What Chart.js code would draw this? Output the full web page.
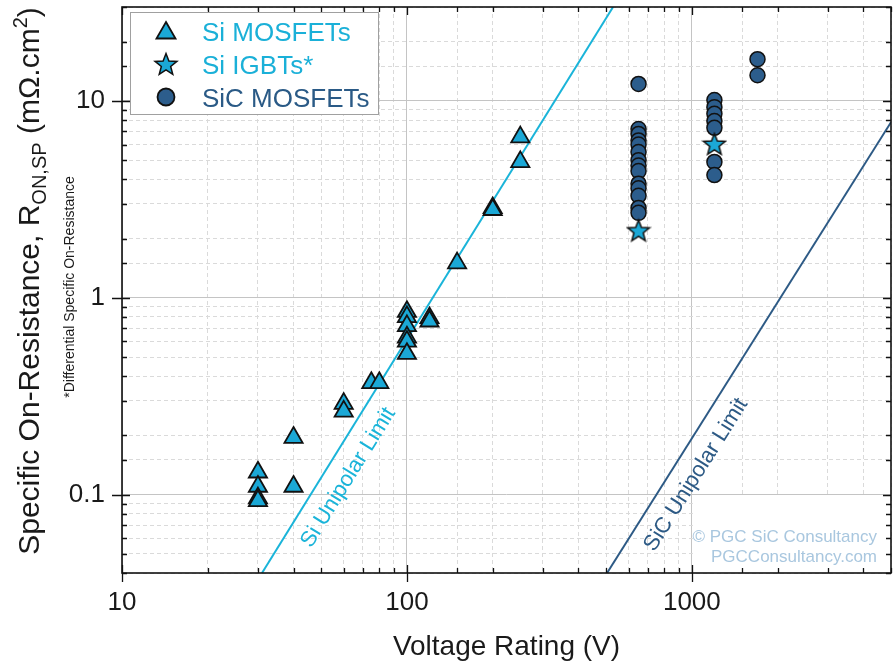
<!DOCTYPE html>
<html>
<head>
<meta charset="utf-8">
<title>Specific on-resistance vs voltage rating</title>
<script src="https://cdn.jsdelivr.net/npm/chart.js@4.4.1/dist/chart.umd.min.js"></script>
<style>
  html, body { margin: 0; padding: 0; background: #fff; }
</style>
</head>
<body>
<canvas id="chart" width="893" height="663"></canvas>
<script>
// values (V, mOhm.cm2)
const siMosV = [30, 30, 30, 30, 40, 40, 60, 60, 75, 80, 100, 100, 100, 100, 100, 100, 120, 120, 150, 200, 200, 250, 250];
const siMosR = [0.13, 0.11, 0.096, 0.093, 0.195, 0.11, 0.29, 0.265, 0.37, 0.37, 0.85, 0.8, 0.72, 0.63, 0.6, 0.52, 0.79, 0.76, 1.5, 2.86, 2.8, 6.55, 4.9];

const igbtV = [650, 1200];
const igbtR = [2.2, 6.05];

const sicV = [650, 650, 650, 650, 650, 650, 650, 650, 650, 650, 650, 650, 650, 650,
              1200, 1200, 1200, 1200, 1200, 1200, 1200, 1700, 1700];
const sicR = [12.2, 7.2, 6.8, 6.3, 6.0, 5.5, 5.0, 4.7, 4.4, 3.8, 3.6, 3.3, 2.86, 2.7,
              10.1, 9.3, 8.6, 7.9, 7.3, 4.9, 4.2, 16.3, 13.5];

// unipolar limit lines (end points on the plot frame)
const siLimitV = [31, 529];
const siLimitR = [0.04, 30];
const sicLimitV = [504, 5000];
const sicLimitR = [0.04, 7.8];

const xRange = [10, 5000];
const yRange = [0.04, 30];

const legendNames = ['Si MOSFETs', 'Si IGBTs*', 'SiC MOSFETs'];

const CYAN = '#1ba8d6';
const NAVY = '#2c5d8c';
const FONT = 'Arial, "Liberation Sans", sans-serif';

const pts = (xs, ys) => xs.map((v, i) => ({ x: v, y: ys[i] }));
const isDecade = v => Math.abs(Math.log10(v) - Math.round(Math.log10(v))) < 1e-6;

// filled five point star, used as a point style
function makeStar() {
  const c = document.createElement('canvas');
  c.width = 26; c.height = 26;
  const g = c.getContext('2d');
  g.beginPath();
  for (let i = 0; i < 10; i++) {
    const r = i % 2 === 0 ? 11.5 : 4.9;
    const a = -Math.PI / 2 + i * Math.PI / 5;
    const px = 13 + r * Math.cos(a), py = 14 + r * Math.sin(a);
    i === 0 ? g.moveTo(px, py) : g.lineTo(px, py);
  }
  g.closePath();
  g.fillStyle = CYAN; g.fill();
  g.lineWidth = 1.5; g.strokeStyle = '#111'; g.stroke();
  return c;
}
const starImg = makeStar();

// white patch + watermark at the bottom right
const watermark = {
  id: 'watermark',
  beforeDatasetsDraw(chart) {
    const { ctx, chartArea: a, scales: { x, y } } = chart;
    const x0 = x.getPixelForValue(1000) + 1;
    const y0 = y.getPixelForValue(0.1) + 2;
    ctx.save();
    ctx.fillStyle = '#fff';
    ctx.fillRect(x0, y0, a.right - x0 - 1, a.bottom - y0 - 1);
    ctx.fillStyle = '#a9c7df';
    ctx.font = '17px ' + FONT;
    ctx.textAlign = 'right';
    ctx.fillText('\u00A9 PGC SiC Consultancy', a.right - 14, a.bottom - 31);
    ctx.fillText('PGCConsultancy.com', a.right - 14, a.bottom - 11);
    ctx.restore();
  }
};

// rotated labels along the two limit lines
function lineLabel(chart, meta, text, color, t, off) {
  const p0 = meta.data[0], p1 = meta.data[1];
  const dx = p1.x - p0.x, dy = p1.y - p0.y;
  const len = Math.hypot(dx, dy);
  const ux = dx / len, uy = dy / len;
  const cx = p0.x + dx * t - uy * off;
  const cy = p0.y + dy * t + ux * off;
  const ctx = chart.ctx;
  ctx.save();
  ctx.translate(cx, cy);
  ctx.rotate(Math.atan2(dy, dx));
  ctx.font = '22px ' + FONT;
  ctx.fillStyle = color;
  ctx.textAlign = 'center';
  ctx.textBaseline = 'middle';
  ctx.fillText(text, 0, 0);
  ctx.restore();
}

const labelsAndLegend = {
  id: 'labelsAndLegend',
  afterDatasetsDraw(chart) {
    const ctx = chart.ctx;
    lineLabel(chart, chart.getDatasetMeta(3), 'Si Unipolar Limit', '#1ab4d9', 0.19, 23);
    lineLabel(chart, chart.getDatasetMeta(4), 'SiC Unipolar Limit', '#2d5a85', 0.245, 23);

    // legend box
    ctx.save();
    ctx.fillStyle = '#fff';
    ctx.strokeStyle = '#a0a0a0';
    ctx.lineWidth = 1;
    ctx.fillRect(130.5, 12.5, 248, 102);
    ctx.strokeRect(130.5, 12.5, 248, 102);
    const rows = [31, 64, 97];
    const styles = [
      { pointStyle: 'triangle', radius: 11, fill: CYAN, text: '#1ab0d8' },
      { pointStyle: starImg, radius: 11, fill: CYAN, text: '#1ab0d8' },
      { pointStyle: 'circle', radius: 8.5, fill: NAVY, text: '#2a5a86' }
    ];
    ctx.font = '26px ' + FONT;
    ctx.textBaseline = 'alphabetic';
    legendNames.forEach((name, i) => {
      const s = styles[i];
      ctx.fillStyle = s.fill;
      ctx.strokeStyle = '#111';
      ctx.lineWidth = 1.8;
      Chart.helpers.drawPoint(ctx, { pointStyle: s.pointStyle, radius: s.radius, borderWidth: 1.8, rotation: 0 }, 166, rows[i] + (i === 0 ? 2 : 0));
      ctx.fillStyle = s.text;
      ctx.fillText(name, 202, rows[i] + 10);
    });
    ctx.restore();
  }
};

// frame, ticks on all four sides, axis titles
const frame = {
  id: 'frame',
  afterDraw(chart) {
    const { ctx, chartArea: a, scales: { x, y } } = chart;
    ctx.save();
    ctx.strokeStyle = '#111';
    ctx.lineWidth = 1.3;
    ctx.beginPath();
    x.ticks.forEach(t => {
      const px = Math.round(x.getPixelForValue(t.value)) + 0.5;
      const big = isDecade(t.value);
      const inn = big ? 8 : 5;
      ctx.moveTo(px, a.bottom + (big ? 9 : 0)); ctx.lineTo(px, a.bottom - inn);
      ctx.moveTo(px, a.top); ctx.lineTo(px, a.top + inn);
    });
    y.ticks.forEach(t => {
      const py = Math.round(y.getPixelForValue(t.value)) + 0.5;
      const big = isDecade(t.value);
      const inn = big ? 8 : 5;
      ctx.moveTo(a.left - (big ? 10 : 0), py); ctx.lineTo(a.left + inn, py);
      ctx.moveTo(a.right, py); ctx.lineTo(a.right - inn, py);
    });
    ctx.stroke();
    ctx.lineWidth = 1.6;
    ctx.strokeRect(a.left, a.top, a.right - a.left, a.bottom - a.top);

    // x title
    ctx.fillStyle = '#1a1a1a';
    ctx.font = '28px ' + FONT;
    ctx.textAlign = 'center';
    ctx.fillText('Voltage Rating (V)', (a.left + a.right) / 2, 655);

    // y title with sub/superscripts
    const parts = [
      ['Specific On-Resistance, R', 30, 0],
      ['ON,SP', 20, 7],
      [' (m\u03A9.cm', 30, 0],
      ['2', 20, -12],
      [')', 30, 0]
    ];
    let total = 0;
    parts.forEach(p => { ctx.font = p[1] + 'px ' + FONT; p.push(ctx.measureText(p[0]).width); total += p[3]; });
    ctx.translate(39, 281);
    ctx.rotate(-Math.PI / 2);
    ctx.textAlign = 'left';
    let cx = -total / 2;
    parts.forEach(p => {
      ctx.font = p[1] + 'px ' + FONT;
      ctx.fillText(p[0], cx, p[2]);
      cx += p[3];
    });
    ctx.setTransform(1, 0, 0, 1, 0, 0);
    ctx.translate(74, 287);
    ctx.rotate(-Math.PI / 2);
    ctx.font = '14px ' + FONT;
    ctx.textAlign = 'center';
    ctx.fillText('*Differential Specific On-Resistance', 0, 0);
    ctx.restore();
  }
};

const gridStyle = {
  color: c => (c.tick && isDecade(c.tick.value)) ? '#c4c4c4' : '#dadada',
  lineWidth: 1,
  drawTicks: false
};
const borderStyle = {
  display: false,
  dash: c => (c.type === 'tick' && c.tick && !isDecade(c.tick.value)) ? [4, 3] : []
};

new Chart(document.getElementById('chart'), {
  type: 'scatter',
  data: {
    datasets: [
      {
        label: legendNames[0],
        data: pts(siMosV, siMosR),
        pointStyle: 'triangle',
        pointRadius: 10.5,
        backgroundColor: CYAN,
        borderColor: '#111',
        borderWidth: 1.8,
        order: 1
      },
      {
        label: legendNames[1],
        data: pts(igbtV, igbtR),
        pointStyle: starImg,
        pointRadius: 11,
        backgroundColor: CYAN,
        borderColor: '#111',
        order: 0
      },
      {
        label: legendNames[2],
        data: pts(sicV, sicR),
        pointStyle: 'circle',
        pointRadius: 7.5,
        backgroundColor: NAVY,
        borderColor: '#111',
        borderWidth: 1.5,
        order: 2
      },
      {
        label: 'Si Unipolar Limit',
        data: pts(siLimitV, siLimitR),
        showLine: true,
        pointRadius: 0,
        borderColor: '#1ab4d9',
        borderWidth: 2,
        order: 5
      },
      {
        label: 'SiC Unipolar Limit',
        data: pts(sicLimitV, sicLimitR),
        showLine: true,
        pointRadius: 0,
        borderColor: '#2d5a85',
        borderWidth: 2,
        order: 5
      }
    ]
  },
  options: {
    responsive: false,
    animation: false,
    layout: { autoPadding: false, padding: { top: 7, right: 2, left: 0, bottom: 0 } },
    plugins: {
      legend: { display: false },
      tooltip: { enabled: false }
    },
    scales: {
      x: {
        type: 'logarithmic',
        min: xRange[0],
        max: xRange[1],
        grid: gridStyle,
        border: borderStyle,
        ticks: {
          autoSkip: false,
          maxRotation: 0,
          padding: 14,
          color: '#1a1a1a',
          font: { size: 26, family: FONT },
          callback: v => isDecade(v) ? String(Math.round(v)) : ''
        },
        afterFit: s => { s.height = 90; s.paddingLeft = 0; s.paddingRight = 0; }
      },
      y: {
        type: 'logarithmic',
        min: yRange[0],
        max: yRange[1],
        grid: gridStyle,
        border: borderStyle,
        ticks: {
          autoSkip: false,
          padding: 17,
          color: '#1a1a1a',
          font: { size: 26, family: FONT },
          callback: v => isDecade(v) ? String(+v.toPrecision(3)) : ''
        },
        afterFit: s => { s.width = 122; s.paddingTop = 0; s.paddingBottom = 0; }
      }
    }
  },
  plugins: [watermark, labelsAndLegend, frame]
});
</script>
</body>
</html>
